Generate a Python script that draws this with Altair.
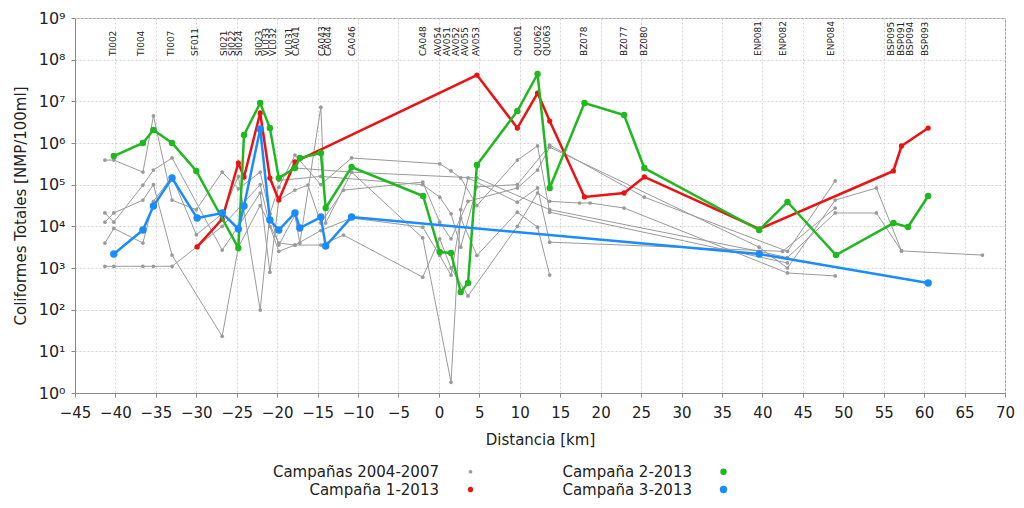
import altair as alt
import pandas as pd

# ---------------- station labels (top) ----------------
station_names = ["TI002", "TI004", "TI007", "SF011", "SI021", "SI022", "SI024", "SI023",
                 "VL033", "VL032", "VL031", "CA041", "CA043", "CA044", "CA046", "CA048",
                 "AV054", "AV051", "AV052", "AV055", "AV053", "QU061", "QU062", "QU063",
                 "BZ078", "BZ077", "BZ080", "ENP081", "ENP082", "ENP084", "BSP095",
                 "BSP091", "BSP094", "BSP093"]
station_km = [-40.3, -36.8, -33.1, -30.1, -26.55, -25.6, -24.7, -22.25,
              -21.4, -20.5, -18.55, -17.7, -14.5, -13.7, -10.8, -1.95,
              -0.1, 1.05, 2.15, 3.25, 4.6, 9.75, 12.2, 13.35,
              17.95, 22.85, 25.3, 39.45, 42.55, 48.5, 55.85,
              57.1, 58.2, 60.15]

# ---------------- Campaña 1-2013 (red) ----------------
red_km = [-29.9, -26.8, -24.8, -24.1, -22.1, -20.9, -19.8, -17.8, 4.7, 9.7, 12.2, 13.7,
          18.0, 22.9, 25.4, 39.6, 56.2, 57.2, 60.5]
red_val = [3200, 15000, 331000, 153000, 5250000, 144000, 42900, 350000, 42800000,
           2290000, 15800000, 3370000, 50600, 63100, 153000, 8630, 213000, 847000, 2290000]

# ---------------- Campaña 2-2013 (green) ----------------
green_km = [-40.2, -36.6, -35.3, -33.0, -30.0, -24.8, -24.1, -22.1, -20.9, -19.8, -17.8,
            -17.2, -14.6, -14.0, -10.8, -1.95, 0.1, 1.5, 2.7, 3.6, 4.7, 9.7, 12.2, 13.7,
            18.0, 22.9, 25.4, 39.6, 43.1, 49.1, 56.2, 58.0, 60.5]
green_val = [487000, 1000000, 2050000, 1000000, 213000, 3020, 1560000, 9120000, 2290000,
             144000, 251000, 437000, 575000, 27500, 265000, 53500, 2420, 2290, 265, 437,
             296000, 5860000, 45300000, 83200, 9120000, 4700000, 251000, 8170, 38400,
             2050, 12000, 9640, 53500]

# ---------------- Campaña 3-2013 (blue) ----------------
blue_km = [-40.2, -36.6, -35.3, -33.0, -29.9, -26.8, -24.8, -24.1, -22.1, -20.9, -19.8,
           -17.8, -17.2, -14.6, -14.0, -10.8, 39.6, 60.5]
blue_val = [2170, 8170, 30800, 144000, 15800, 20900, 8630, 30800, 2170000, 14200, 8170,
            20900, 9120, 16700, 3370, 16700, 2170, 437]

# ---------------- Campañas 2004-2007 (gray) ----------------
gray_km = [
    [-41.3, -40.2, -36.6, -35.3, -33.0, -30.0, -26.8, -24.8, -22.1, -20.9, -19.8, -17.8,
     -14.6, -10.8, 0.1, 1.5, 2.7, 4.7, 9.7, 12.2, 13.7, 43.1],
    [-41.3, -40.2, -36.6, -35.3, -33.0, -26.8, -24.8, -22.1, -20.9, -19.8, -17.8, -16.2,
     -14.6, -11.8, -2.0, 0.1, 1.5, 3.6, 9.7, 12.2, 13.7, 39.6, 43.1, 49.0, 54.1, 57.2],
    [-41.3, -40.2, -36.6, -35.3, -33.0, -26.8, -24.8, -22.1, -19.8, -17.8, -14.6, -10.8,
     -2.0, 0.1, 1.5, 2.7, 4.7, 9.7, 12.2, 13.7],
    [-41.3, -40.2, -36.6, -35.3, -33.0, -30.0, -26.8, -24.8, -22.1, -20.9, -19.8, -17.8,
     -17.2, -14.6, -14.0, -10.8, -2.0, 1.5, 2.7, 3.6, 9.7, 12.2, 13.7, 42.5, 49.0],
    [-41.3, -40.2, -36.6, -35.3, -33.0, -30.0, -26.8, -22.1, -20.9, -19.8, -17.8, -14.6,
     -11.8, -2.0, 0.1, 1.5, 3.6, 9.7, 12.2, 13.7, 17.4, 18.7, 22.9, 43.1, 49.0],
    [-17.8, -10.8, 4.7, 13.7, 39.6, 43.1, 49.0, 54.1, 57.2, 67.2],
    [-19.8, -14.6, -2.0, 0.1, 1.5, 2.7, 4.7, 9.7, 13.7, 25.4, 43.1, 49.0],
]
gray_val = [
    [389000, 389000, 200000, 4470000, 42700, 25100, 200000, 79400, 200000, 20000, 87100,
     513000, 100000, 437000, 316000, 214000, 145000, 31600, 389000, 851000, 21900, 1320],
    [20900, 12600, 97700, 224000, 437000, 2690, 10000, 63100, 794, 42700, 74100, 97700,
     12000, 74100, 115000, 12600, 5010, 39800, 83200, 224000, 794000, 3160, 1000, 42700,
     83200, 2570],
    [12600, 20900, 42700, 100000, 2040, 23, 3160, 31600, 3980, 3550, 7940, 15800, 9550,
     2000, 676, 15800, 2000, 21900, 9550, 676],
    [3980, 8910, 3980, 39800, 158000, 6310, 20000, 158000, 98, 20000, 3550, 18600, 3980,
     7240000, 12000, 200000, 5250, 1.8, 25100, 145000, 38000, 83200, 4170, 2510, 27500],
    [1100, 1100, 1100, 1100, 1100, 3160, 10000, 100000, 10000, 2510, 3550, 3550, 6170,
     603, 5010, 1000, 214, 10000, 63100, 39800, 36300, 36300, 27500, 759, 646],
    [251000, 200000, 145000, 25100, 2510, 1780, 20900, 20900, 2570, 2040],
    [126000, 158000, 100000, 50100, 20000, 3160, 89100, 100000, 891000, 50100, 2510, 123000],
]

series_names = ["Campañas 2004-2007", "Campaña 1-2013", "Campaña 2-2013", "Campaña 3-2013"]
series_colors = ["#9a9a9a", "#ee1111", "#1fb81f", "#1a8cff"]
series_sizes = [14, 55, 55, 55]

FONT = "DejaVu Sans"

gray_rows = []
for gi, (ks, vs) in enumerate(zip(gray_km, gray_val)):
    for i, (k, v) in enumerate(zip(ks, vs)):
        gray_rows.append({"km": k, "val": v, "serie": series_names[0], "grp": f"g{gi}", "ord": i})
gray_df = pd.DataFrame(gray_rows)


def series_df(ks, vs, name):
    return pd.DataFrame({"km": ks, "val": vs, "serie": name, "ord": list(range(len(ks)))})


red_df = series_df(red_km, red_val, series_names[1])
green_df = series_df(green_km, green_val, series_names[2])
blue_df = series_df(blue_km, blue_val, series_names[3])
lab_df = pd.DataFrame({"km": station_km, "name": station_names})

xscale = alt.Scale(domain=[-45, 70], nice=False, zero=False)
yscale = alt.Scale(type="log", domain=[1, 1e9], nice=False)
cscale = alt.Scale(domain=series_names, range=series_colors)
sscale = alt.Scale(domain=series_names, range=series_sizes)

sup = "['⁰','¹','²','³','⁴','⁵','⁶','⁷','⁸','⁹']"
xax = alt.Axis(values=list(range(-45, 71, 5)), format="d", title="Distancia [km]",
               labelFontSize=15, titleFontSize=15, labelFont=FONT, titleFont=FONT,
               titleFontWeight="normal", labelColor="#222", titleColor="#222",
               labelOverlap=False, labelFlush=False,
               grid=True, gridColor="#d4d4d4", gridDash=[2, 2], tickSize=4,
               labelPadding=8, titlePadding=12, domainColor="#888", tickColor="#888")
yax = alt.Axis(values=[10 ** i for i in range(10)],
               labelExpr="'10' + " + sup + "[round(log(datum.value)/LN10)]",
               title="Coliformes Totales [NMP/100ml]", labelOverlap=False,
               labelFontSize=16, titleFontSize=15, labelFont=FONT, titleFont=FONT,
               titleFontWeight="normal", labelColor="#222", titleColor="#222",
               grid=True, gridColor="#d4d4d4", gridDash=[2, 2], tickSize=4,
               labelPadding=6, titlePadding=10, domainColor="#888", tickColor="#888")

legend = alt.Legend(orient="none", legendX=351, legendY=446, columns=2, title=None,
                    labelAlign="right", labelOffset={"expr": "-39"}, symbolOffset=37,
                    labelLimit=0,
                    columnPadding=88, rowPadding=2, labelFontSize=15, labelFont=FONT,
                    labelColor="#222", symbolType="circle",
                    symbolStrokeWidth=0)

color_enc = alt.Color("serie:N", scale=cscale, legend=legend)
size_enc = alt.Size("serie:N", scale=sscale, legend=legend)


def layer(df, width, detail=None):
    enc_line = dict(
        x=alt.X("km:Q", scale=xscale, axis=xax),
        y=alt.Y("val:Q", scale=yscale, axis=yax),
        color=color_enc,
        order=alt.Order("ord:Q"),
    )
    if detail:
        enc_line["detail"] = alt.Detail(detail)
    line = alt.Chart(df).mark_line(strokeWidth=width).encode(**enc_line)
    pt = alt.Chart(df).mark_point(filled=True, opacity=1).encode(
        x=alt.X("km:Q", scale=xscale, axis=xax),
        y=alt.Y("val:Q", scale=yscale, axis=yax),
        color=color_enc,
        size=size_enc,
    )
    return [line, pt]


layers = []
layers += layer(gray_df, 1, detail="grp:N")
layers += layer(red_df, 2.5)
layers += layer(green_df, 2.5)
layers += layer(blue_df, 2.5)

labels = alt.Chart(lab_df).mark_text(angle=270, align="left", baseline="middle",
                                     fontSize=9, font=FONT, color="#222").encode(
    x=alt.X("km:Q", scale=xscale, axis=xax),
    y=alt.value(38),
    text="name:N",
)
layers.append(labels)

chart = alt.layer(*layers).properties(
    width=930, height=375,
    autosize=alt.AutoSizeParams(type="none"),
    padding={"left": 67, "top": 10, "right": 11, "bottom": 107},
).configure_view(stroke="#999", strokeWidth=1)

chart.save("out.html", embed_options={"renderer": "svg", "actions": False})
